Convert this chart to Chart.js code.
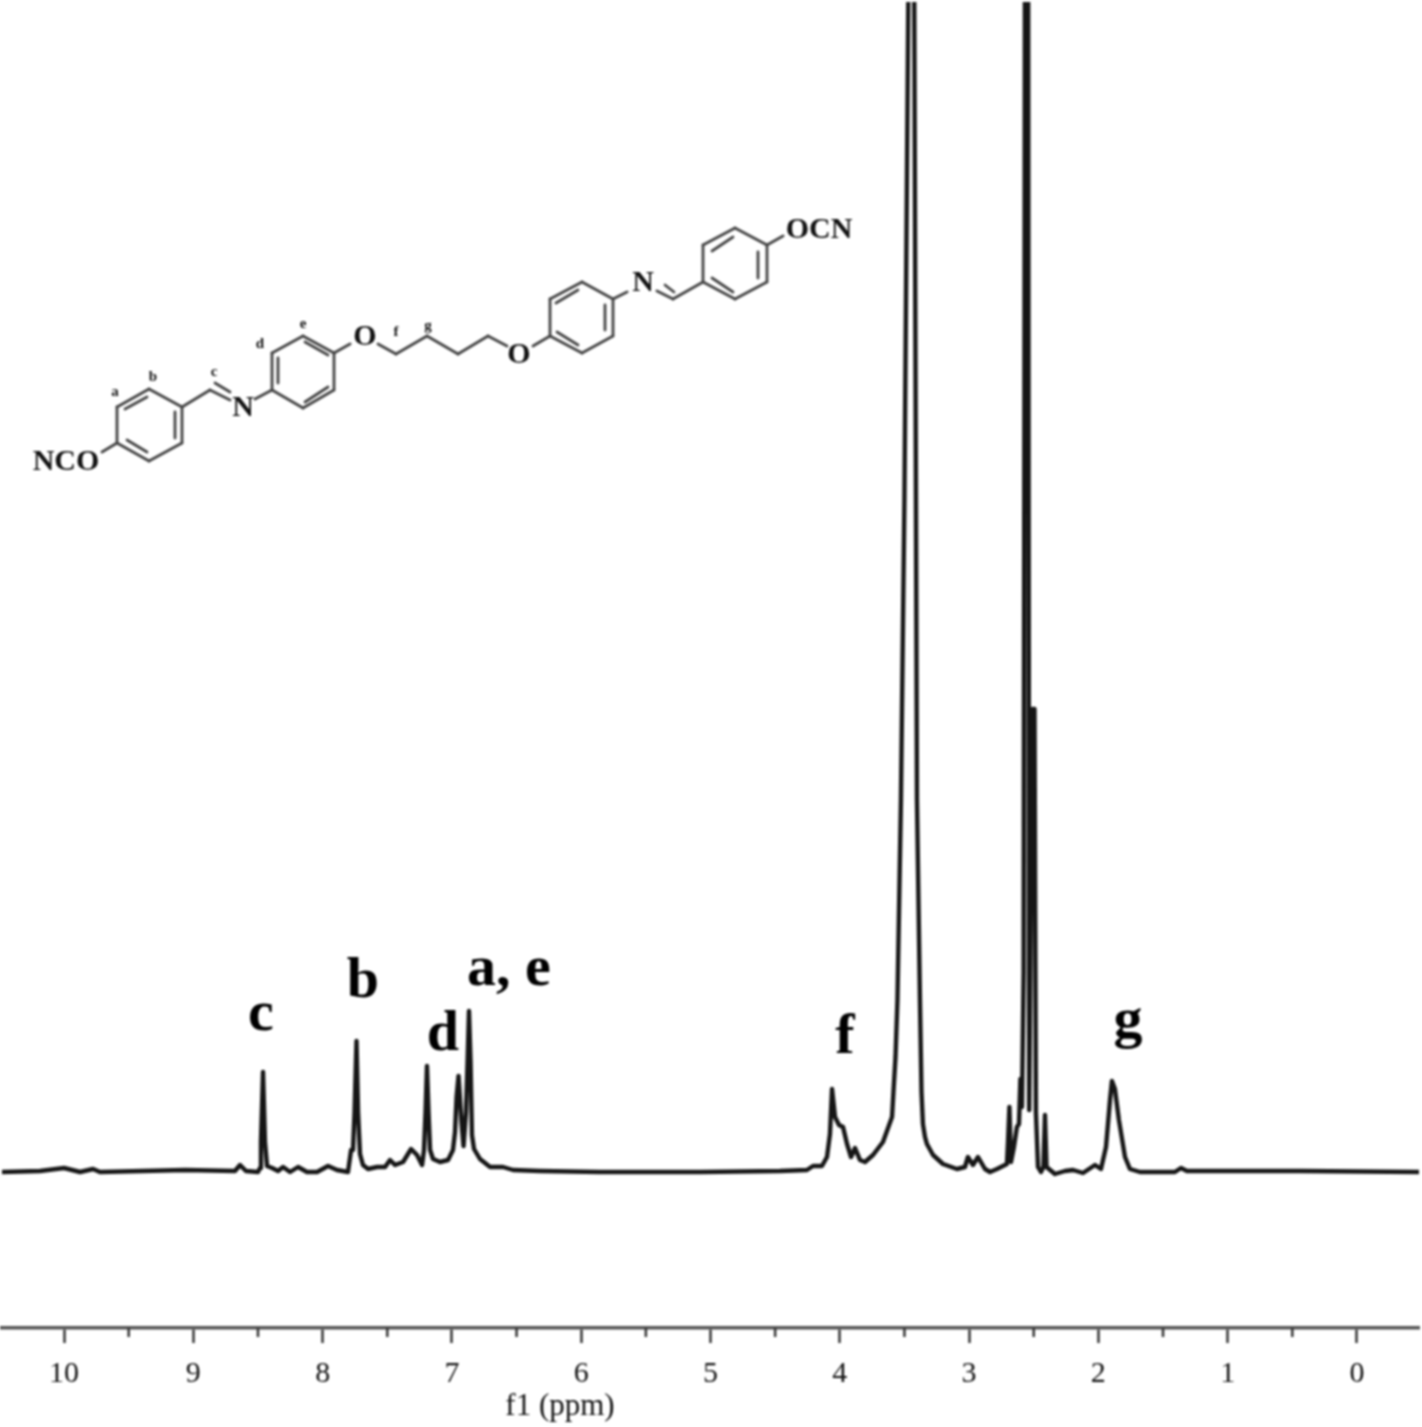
<!DOCTYPE html>
<html><head><meta charset="utf-8">
<style>html,body{margin:0;padding:0;background:#fff}canvas{display:block;filter:blur(0.8px)}</style>
<script src="https://cdn.jsdelivr.net/npm/chart.js@4/dist/chart.umd.min.js"></script>
</head><body><canvas id="c" width="1422" height="1427"></canvas>
<script>
const spectrumPpm=[10.48,10.186,10.0,9.876,9.776,9.722,9.064,8.678,8.639,8.593,8.5,8.484,8.477,8.461,8.446,8.43,8.391,8.345,8.306,8.252,8.19,8.121,8.043,7.958,7.889,7.804,7.78,7.765,7.753,7.738,7.726,7.711,7.688,7.649,7.579,7.517,7.479,7.44,7.378,7.316,7.27,7.231,7.216,7.204,7.193,7.181,7.169,7.146,7.092,7.03,6.992,6.976,6.964,6.949,6.937,6.926,6.91,6.891,6.879,6.868,6.856,6.845,6.829,6.783,6.705,6.605,6.527,6.319,5.855,5.081,4.463,4.254,4.207,4.138,4.099,4.076,4.06,4.037,4.006,3.975,3.944,3.913,3.882,3.844,3.805,3.743,3.666,3.596,3.585,3.569,3.554,3.527,3.5,3.47,3.447,3.424,3.403,3.38,3.368,3.357,3.341,3.326,3.279,3.202,3.094,3.032,3.009,2.97,2.931,2.877,2.838,2.784,2.707,2.699,2.688,2.676,2.653,2.63,2.614,2.603,2.591,2.578,2.565,2.545,2.535,2.51,2.494,2.483,2.467,2.444,2.425,2.413,2.401,2.336,2.258,2.196,2.119,2.026,1.98,1.941,1.91,1.895,1.872,1.841,1.794,1.756,1.678,1.408,1.361,1.315,0.441,-0.48];
const spectrumIntensity=[0,1,4,0,3,0,2,1,7,1,0,4,30,100,30,6,4,1,5,0,5,0,0,6,2,0,22,22,60,131,60,18,7,3,5,5,12,7,10,23,17,7,22,60,106,60,22,13,10,12,22,40,75,96,72,50,26,60,110,161,110,37,23,13,5,5,2,1,0,0,1,2,6,6,15,38,83,55,47,45,28,15,24,12,10,17,30,55,80,115,172,372,672,1172,1700,1172,372,172,80,48,35,28,17,8,3,5,15,7,15,3,0,3,8,30,65,10,25,45,48,93,65,200,1500,1500,62,463,463,60,5,0,5,57,5,-2,1,2,-1,7,3,25,72,91,83,52,15,3,0,0,4,1,1,0];
const majorTicks=[10,9,8,7,6,5,4,3,2,1,0];
const minorTicks=[9.5,8.5,7.5,6.5,5.5,4.5,3.5,2.5,1.5,0.5];
const axisTitle="f1 (ppm)";
const axisTitlePpm=6.164;
const peakLabelText=["c","b","d","a, e","f","g"];
const peakLabelPpm=[8.477,7.688,7.07,6.559,3.96,1.771];
const peakLabelIntensity=[142,175,122,187,119,135];
const ringBonds=[[117,407,149,389],[149,389,182,407],[182,407,182,443],[182,443,149,461],[149,461,117,443],[117,443,117,407],[125,409,147,397],[175,412,175,438],[127,440,147,452],[117,443,102,452],[182,407,210,390],[210,390,230,400],[215,383,230,392],[255,399,272,390],[272,390,272,353],[272,353,303,336],[303,336,334,353],[334,353,334,390],[334,390,303,408],[303,408,272,390],[278,383,278,358],[305,342,328,355],[305,402,328,387],[334,353,350,344],[378,344,396,354],[396,354,427,336],[427,336,458,354],[458,354,488,336],[488,336,507,346],[533,346,550,336],[550,336,550,299],[550,299,582,282],[582,282,613,299],[613,299,613,336],[613,336,582,353],[582,353,550,336],[556,303,578,290],[605,305,605,330],[557,332,578,345],[613,299,627,292],[657,291,673,299],[665,285,674,292],[673,299,703,282],[703,282,703,245],[703,245,735,228],[735,228,767,245],[767,245,767,282],[767,282,735,299],[735,299,703,282],[712,251,733,237],[758,252,758,278],[712,278,733,292],[767,245,783,236]];
const atomLabels=[["NCO",66,462],["N",243,408],["O",365,337],["O",519,355],["N",643,283],["OCN",819,230]];
const siteLabels=[["a",115,392],["b",153,377],["c",214,372],["d",260,344],["e",303,324],["f",396,332],["g",428,326]];

const serif='"Liberation Serif","Times New Roman",serif';
const ink='#151515';
const annotate={id:'annotate',
 beforeDatasetsDraw(ch){
  const g=ch.ctx;g.save();
  g.strokeStyle='#444';g.lineWidth=2.8;g.lineCap='round';
  ringBonds.forEach(b=>{g.beginPath();g.moveTo(b[0],b[1]);g.lineTo(b[2],b[3]);g.stroke();});
  g.fillStyle='#111';g.textAlign='center';g.textBaseline='middle';
  g.font='bold 30px '+serif;
  atomLabels.forEach(a=>g.fillText(a[0],a[1],a[2]));
  g.font='bold 15px '+serif;
  siteLabels.forEach(a=>g.fillText(a[0],a[1],a[2]));
  g.restore();
 },
 afterDraw(ch){
  const g=ch.ctx,x=ch.scales.x,y=ch.scales.y;g.save();
  g.strokeStyle='#333';g.lineWidth=2.5;
  minorTicks.forEach(v=>{const p=x.getPixelForValue(v);g.beginPath();g.moveTo(p,x.top);g.lineTo(p,x.top+9);g.stroke();});
  g.fillStyle='#000';g.textAlign='center';g.textBaseline='alphabetic';
  g.font='bold 58px '+serif;
  peakLabelText.forEach((t,i)=>g.fillText(t,x.getPixelForValue(peakLabelPpm[i]),y.getPixelForValue(peakLabelIntensity[i])));
  g.fillStyle='#111';g.font='31px '+serif;
  g.fillText(axisTitle,x.getPixelForValue(axisTitlePpm),1415);
  g.restore();
 }};
new Chart(document.getElementById('c'),{
 type:'line',
 data:{datasets:[{data:spectrumPpm.map((p,i)=>({x:p,y:spectrumIntensity[i]})),borderColor:ink,borderWidth:4.4,pointRadius:0,tension:0,fill:false,borderJoinStyle:'round'}]},
 options:{responsive:false,animation:false,
  layout:{padding:{left:2,right:3,top:2,bottom:0}},
  plugins:{legend:{display:false},tooltip:{enabled:false},title:{display:false}},
  scales:{
   x:{type:'linear',reverse:true,min:-0.48,max:10.48,
    afterBuildTicks(s){s.ticks=majorTicks.map(v=>({value:v}));},
    afterFit(s){s.height=99;},
    border:{display:true,color:'#555',width:3.5},
    grid:{drawOnChartArea:false,drawTicks:true,tickLength:15,tickColor:'#333',tickWidth:2.5},
    ticks:{autoSkip:false,maxRotation:0,minRotation:0,padding:13,color:'#111',font:{family:serif,size:30},callback:v=>String(v)}
   },
   y:{display:false,min:-156,max:1170}
  }},
 plugins:[annotate]
});
</script></body></html>
